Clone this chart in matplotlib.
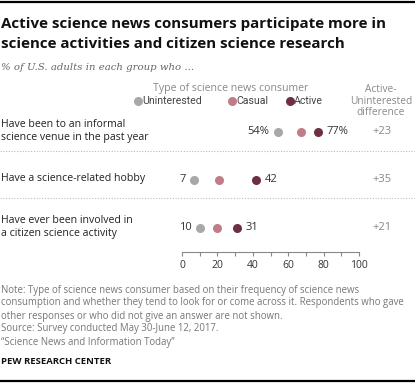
import matplotlib
matplotlib.use('Agg')
import matplotlib.pyplot as plt
from matplotlib.lines import Line2D

# data
items = ['Have been to an informal\nscience venue in the past year',
         'Have a science-related hobby',
         'Have ever been involved in\na citizen science activity']
groups = ['Uninterested', 'Casual', 'Active']
uninterested = [54, 7, 10]
casual = [67, 21, 20]
active = [77, 42, 31]
colors = ['#a8a8a8', '#c07c88', '#6e3040']
xticks = [0, 20, 40, 60, 80, 100]

W, H = 415, 384
fig = plt.figure(figsize=(W / 100, H / 100), dpi=100)
plt.rcParams['font.family'] = ['Open Sans', 'DejaVu Sans']

def px(x, y):
    # pixel coords (from top-left) to figure fraction
    return x / W, 1 - y / H

def ftext(x, y, s, **kw):
    fx, fy = px(x, y)
    kw.setdefault('va', 'center')
    fig.text(fx, fy, s, **kw)

# top and bottom rules
fig.add_artist(Line2D([0, 1], [1 - 1.5 / H] * 2, color='black', lw=1.6))
fig.add_artist(Line2D([0, 1], [1 - 380.5 / H] * 2, color='black', lw=1.6))

# title / subtitle
ftext(1, 24, 'Active science news consumers participate more in', fontsize=10.9, fontweight='bold', color='#111111')
ftext(1, 44, 'science activities and citizen science research', fontsize=10.9, fontweight='bold', color='#111111')
ftext(1, 67, '% of U.S. adults in each group who ...', fontsize=7.3, style='italic',
      family='DejaVu Serif', color='#666666')

# chart axes: x 0..100 spans pixel 182..359, rows at 132/180/228px, axis at 252px
row_gap = 48
ax = fig.add_axes([182 / W, 1 - 252 / H, 177 / W, (252 - 110) / H])
ax.set_xlim(0, 100)
ax.set_ylim(2.5, (110 - 132) / row_gap)
for s in ['top', 'right', 'left']:
    ax.spines[s].set_visible(False)
ax.spines['bottom'].set_color('#888888')
ax.spines['bottom'].set_linewidth(0.8)
ax.set_yticks([])
ax.set_xticks(xticks)
ax.set_xticks(range(10, 100, 20), minor=True)
ax.tick_params(axis='x', which='both', direction='out', length=3, width=0.8,
               color='#888888', labelsize=7.5, labelcolor='#333333', pad=3)
ax.patch.set_alpha(0)

for i, vals in enumerate(zip(uninterested, casual, active)):
    for v, c in zip(vals, colors):
        ax.plot(v, i, 'o', ms=6.5, color=c, mec='none', clip_on=False)
    lo, hi = vals[0], vals[2]
    sfx = '%' if i == 0 else ''
    ax.annotate(f'{lo}{sfx}', (lo, i), xytext=(-6, 0), textcoords='offset points',
                ha='right', va='center', fontsize=8, color='#333333')
    ax.annotate(f'{hi}{sfx}', (hi, i), xytext=(6, 0), textcoords='offset points',
                ha='left', va='center', fontsize=8, color='#333333')

# row labels, differences, separators
for i, lab in enumerate(items):
    yp = 132 + row_gap * i
    ftext(1, yp - 1, lab, fontsize=7.6, color='#222222', linespacing=1.2)
    ftext(382, yp, f'+{active[i] - uninterested[i]}', fontsize=8, color='#888888', ha='center')
for yp in [151, 198]:
    fig.add_artist(Line2D([0, 1], [1 - yp / H] * 2, color='#bbbbbb', lw=0.8, ls=(0, (1, 1.5))))

# legend
ftext(231, 88, 'Type of science news consumer', fontsize=7.6, color='#888888', ha='center')
leg_x = [138, 232, 290]
for gx, g, c in zip(leg_x, groups, colors):
    fig.add_artist(Line2D([gx / W], [1 - 101 / H], marker='o', ms=6.5, color=c, mec='none'))
    ftext(gx + 4, 101, g, fontsize=7.6, color='#444444', family='Roboto')
ftext(381, 101, 'Active-\nUninterested\ndifference', fontsize=7.3, color='#888888',
      ha='center', linespacing=1.1)

# notes
note = ('Note: Type of science news consumer based on their frequency of science news\n'
        'consumption and whether they tend to look for or come across it. Respondents who gave\n'
        'other responses or who did not give an answer are not shown.\n'
        'Source: Survey conducted May 30-June 12, 2017.\n'
        '\u201cScience News and Information Today\u201d')
ftext(1, 316, note, fontsize=6.9, color='#777777', linespacing=1.25)
ftext(1, 362, 'PEW RESEARCH CENTER', fontsize=6.8, color='#111111', fontweight='bold')

fig.savefig('out.png', dpi=100)
